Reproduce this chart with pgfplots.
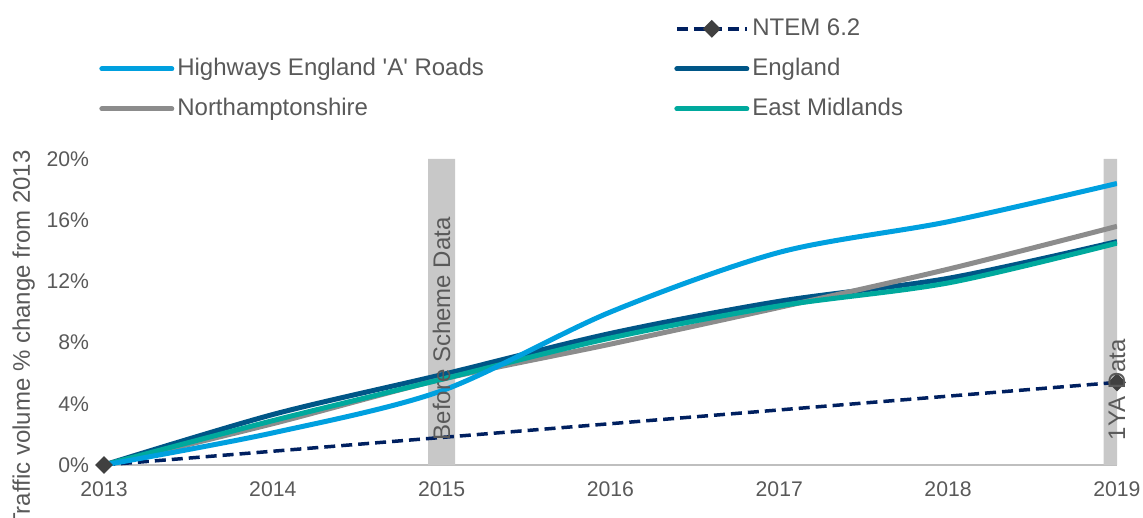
\documentclass[border=0pt]{standalone}
\usepackage{pgfplots}
\pgfplotsset{compat=1.18}
\usepackage{fontspec}
\setmainfont{Liberation Sans}
\definecolor{heblue}{HTML}{00A0DF}
\definecolor{engblue}{HTML}{005687}
\definecolor{nhgray}{HTML}{8C8C8C}
\definecolor{emteal}{HTML}{00A99D}
\definecolor{navy}{HTML}{002060}
\definecolor{barg}{HTML}{C8C8C8}
\definecolor{txt}{HTML}{595959}
\definecolor{mk}{HTML}{404040}
\begin{document}
\begin{tikzpicture}
\begin{axis}[
  at={(0pt,0pt)}, anchor=south west,
  scale only axis, width=506.5pt, height=153pt,
  xmin=2013, xmax=2019, ymin=0, ymax=20,
  axis x line*=bottom, axis y line*=left,
  y axis line style={draw=none},
  x axis line style={draw=black!25, line width=0.8pt},
  xtick={2013,2014,...,2019}, ytick={0,4,...,20},
  major tick length=0pt,
  /pgf/number format/assume math mode=true,
  /pgf/number format/1000 sep={},
  yticklabel={\pgfmathprintnumber{\tick}\%},
  tick label style={font=\fontsize{10.6}{12}\selectfont, text=txt},
  yticklabel style={xshift=-4pt},
  xticklabel style={yshift=-5pt},
  legend columns=2,
  legend cell align=left,
  legend image code/.code={\draw[mark repeat=2,mark phase=2,#1] plot coordinates {(0pt,0pt) (17.5pt,0pt) (35pt,0pt)};},
  legend style={at={(axis description cs:-0.005,1.474)}, anchor=north west,
    draw=none, fill=none, inner sep=0pt, row sep=5.5pt, column sep=0pt,
    font=\fontsize{12}{14}\selectfont, text=txt,
    nodes={inner sep=1.5pt, text height=9pt, text depth=2.5pt}},
]
\addplot[ybar, bar width=13.5pt, fill=barg, draw=none, forget plot] coordinates {(2015,20) (2019,20)};

\addplot[navy, line width=1.75pt, dash pattern=on 5.5pt off 3pt, mark=square*, mark size=2.3pt,
  mark options={solid, rotate=45, fill=mk, draw=mk}, forget plot] coordinates {(2013,0) (2019,5.4)};

\addplot[engblue, line width=2.5pt, smooth, tension=0.5, forget plot] coordinates {
 (2013,0) (2014,3.3) (2015,5.9) (2016,8.6) (2017,10.7) (2018,12.2) (2019,14.6)};
\addplot[nhgray, line width=2.5pt, smooth, tension=0.5, forget plot] coordinates {
 (2013,0) (2014,2.7) (2015,5.6) (2016,7.9) (2017,10.3) (2018,12.8) (2019,15.6)};
\addplot[emteal, line width=2.5pt, smooth, tension=0.5, forget plot] coordinates {
 (2013,0) (2014,2.9) (2015,5.6) (2016,8.3) (2017,10.4) (2018,11.9) (2019,14.5)};
\addplot[heblue, line width=2.5pt, smooth, tension=0.5, forget plot] coordinates {
 (2013,0) (2014,2.1) (2015,4.85) (2016,10.0) (2017,13.9) (2018,15.9) (2019,18.4)};

\coordinate (bs) at (axis cs:2015,1.6);
\coordinate (ya) at (axis cs:2019,1.6);

\addlegendimage{empty legend}
\addlegendentry{\makebox[247pt][l]{}}
\addlegendimage{navy, line width=1.75pt, dash pattern=on 5.5pt off 3pt, mark=square*, mark size=2.3pt, mark options={solid, rotate=45, fill=mk, draw=mk}}
\addlegendentry{NTEM 6.2}
\addlegendimage{heblue, line width=2.5pt, line cap=round}
\addlegendentry{\makebox[247pt][l]{Highways England \textquotesingle A\textquotesingle{} Roads}}
\addlegendimage{engblue, line width=2.5pt, line cap=round}
\addlegendentry{England}
\addlegendimage{nhgray, line width=2.5pt, line cap=round}
\addlegendentry{\makebox[247pt][l]{Northamptonshire}}
\addlegendimage{emteal, line width=2.5pt, line cap=round}
\addlegendentry{East Midlands}
\end{axis}
\node[rotate=90, anchor=west, inner sep=0pt, font=\fontsize{12}{14}\selectfont, text=txt] at (bs) {Before Scheme Data};
\node[rotate=90, anchor=west, inner sep=0pt, font=\fontsize{12}{14}\selectfont, text=txt] at (ya) {1YA Data};
\node[rotate=90, anchor=base east, inner sep=0pt, font=\fontsize{12}{14}\selectfont, text=txt] at (-37pt,157.5pt) {Traffic volume \% change from 2013};
\pgfresetboundingbox
\useasboundingbox (-52pt,-26.5pt) rectangle (519.5pt,232.5pt);
\end{tikzpicture}
\end{document}
